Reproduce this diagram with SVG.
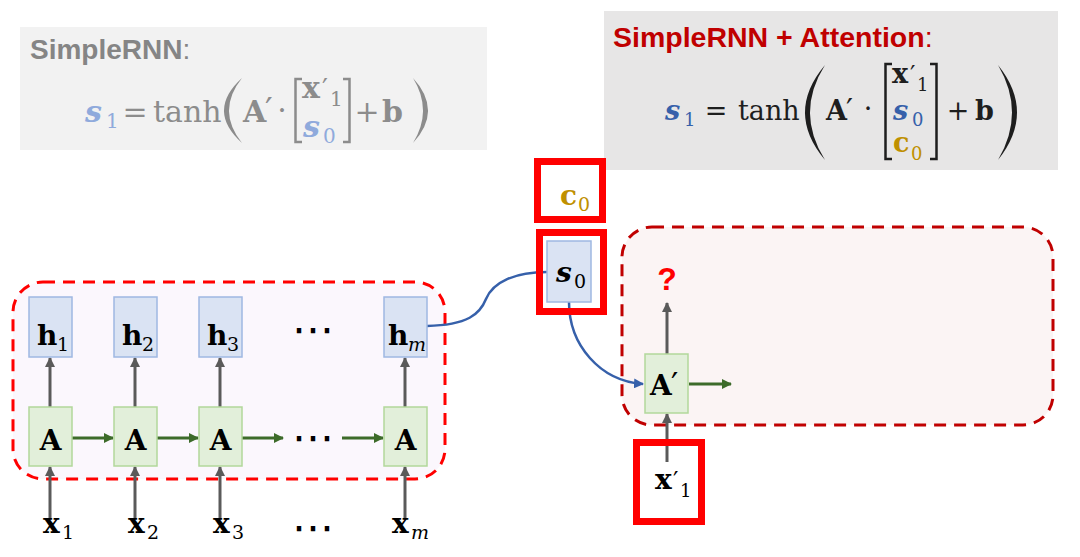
<svg xmlns="http://www.w3.org/2000/svg" width="1080" height="557" viewBox="0 0 1080 557">
<style>
.m{font-family:"DejaVu Serif","Liberation Serif",serif;}
.p{font-family:"DejaVu Sans","Liberation Sans",sans-serif;font-weight:normal;font-style:normal;}
.b{font-weight:bold;}
.bi{font-weight:bold;font-style:italic;}
.it{font-style:italic;}
.t{font-family:"Liberation Sans","DejaVu Sans",sans-serif;}
.hbox{fill:#dae3f3;stroke:#9fb8e2;stroke-width:1.5;}
.abox{fill:#e2efda;stroke:#b2d89b;stroke-width:1.5;}
.red{fill:none;stroke:#ff0000;stroke-width:7;}
.ga{stroke:#5a5a5a;stroke-width:3;fill:none;marker-end:url(#mg);}
.gr{stroke:#3d6b2a;stroke-width:3;fill:none;marker-end:url(#mgr);}
.bl{stroke:#3660aa;stroke-width:2.5;fill:none;}
</style>
<defs>
<marker id="mg" viewBox="0 0 10 10" refX="9" refY="5" markerWidth="10" markerHeight="10" markerUnits="userSpaceOnUse" orient="auto"><path d="M0,0L10,5L0,10z" fill="#5a5a5a"/></marker>
<marker id="mgr" viewBox="0 0 10 10" refX="9" refY="5" markerWidth="10" markerHeight="10" markerUnits="userSpaceOnUse" orient="auto"><path d="M0,0L10,5L0,10z" fill="#3d6b2a"/></marker>
<marker id="mb" viewBox="0 0 10 10" refX="9" refY="5" markerWidth="10" markerHeight="10" markerUnits="userSpaceOnUse" orient="auto"><path d="M0,0L10,5L0,10z" fill="#3660aa"/></marker>
</defs>
<rect width="1080" height="557" fill="#ffffff"/>

<!-- left formula panel -->
<g id="formula-simplernn">
<rect x="20" y="27" width="467" height="123" fill="#f2f2f2"/>
<text class="t" x="30" y="59" font-size="28" fill="#858585"><tspan font-weight="bold">SimpleRNN</tspan>:</text>
<g class="m" fill="#8c8c8c" font-size="30">
<text fill="#8faadc"><tspan class="bi" x="85" y="122">s</tspan><tspan x="106" y="128" font-size="20">1</tspan></text>
<text x="135" y="122" text-anchor="middle">=</text>
<text x="153" y="122">tanh</text>
<path d="M242,78 Q206,110.5 242,143 Q216,110.5 242,78Z"/>
<text><tspan class="b" x="243" y="122">A</tspan><tspan class="p" x="265" y="122" font-size="34">′</tspan></text>
<text x="282" y="120" text-anchor="middle">·</text>
<path d="M302,79 H295.5 V142 H302" fill="none" stroke="#8c8c8c" stroke-width="2.5"/>
<text><tspan class="b" x="302" y="98">x</tspan><tspan class="p" x="322" y="98" font-size="26">′</tspan><tspan x="330" y="106" font-size="20">1</tspan></text>
<text fill="#8faadc"><tspan class="bi" x="303" y="137">s</tspan><tspan x="323" y="143" font-size="20">0</tspan></text>
<path d="M343,79 H349.5 V142 H343" fill="none" stroke="#8c8c8c" stroke-width="2.5"/>
<text x="367" y="122" text-anchor="middle">+</text>
<text class="b" x="382" y="122">b</text>
<path d="M413,78 Q443,110.5 413,143 Q433,110.5 413,78Z"/>
</g>
</g>

<!-- right formula panel -->
<g id="formula-attention">
<rect x="604" y="11" width="454" height="159" fill="#e7e6e6"/>
<text class="t" x="613" y="47" font-size="28.5" fill="#c00000"><tspan font-weight="bold">SimpleRNN + Attention</tspan>:</text>
<g class="m" fill="#1e1e1e" font-size="27">
<text fill="#3660aa"><tspan class="bi" x="665" y="120">s</tspan><tspan x="684" y="126" font-size="18">1</tspan></text>
<text x="716" y="120" text-anchor="middle">=</text>
<text x="738" y="120">tanh</text>
<path d="M825,65 Q785,112.5 825,160 Q795,112.5 825,65Z"/>
<text><tspan class="b" x="826" y="120">A</tspan><tspan class="p" x="846" y="120" font-size="31">′</tspan></text>
<text x="868" y="118" text-anchor="middle">·</text>
<path d="M892,64 H885.5 V159 H892" fill="none" stroke="#1e1e1e" stroke-width="2.5"/>
<text><tspan class="b" x="892" y="83">x</tspan><tspan class="p" x="910" y="83" font-size="24">′</tspan><tspan x="917" y="91" font-size="18">1</tspan></text>
<text fill="#3660aa"><tspan class="bi" x="893" y="120">s</tspan><tspan x="912" y="126" font-size="18">0</tspan></text>
<text fill="#bf9000"><tspan class="b" x="893" y="152">c</tspan><tspan x="911" y="160" font-size="18">0</tspan></text>
<path d="M930,64 H936.5 V159 H930" fill="none" stroke="#1e1e1e" stroke-width="2.5"/>
<text x="958" y="120" text-anchor="middle">+</text>
<text class="b" x="975" y="120">b</text>
<path d="M998,65 Q1036,112.5 998,160 Q1026,112.5 998,65Z"/>
</g>
</g>

<!-- containers -->
<g id="encoder-container">
<rect x="13" y="282" width="432" height="197" rx="30" fill="#fbf7fd" stroke="#ff0000" stroke-width="3" stroke-dasharray="12 8"/>
</g>
<g id="decoder-container">
<rect x="622" y="227" width="431" height="198" rx="30" fill="#fbf4f4" stroke="#c00000" stroke-width="3" stroke-dasharray="12 8"/>
</g>

<!-- connectors -->
<g id="connectors">
<line class="ga" x1="50" y1="407" x2="50" y2="358"/>
<line class="ga" x1="135" y1="407" x2="135" y2="358"/>
<line class="ga" x1="220" y1="407" x2="220" y2="358"/>
<line class="ga" x1="405" y1="407" x2="405" y2="358"/>
<line class="ga" x1="50" y1="518" x2="50" y2="467"/>
<line class="ga" x1="135" y1="518" x2="135" y2="467"/>
<line class="ga" x1="220" y1="518" x2="220" y2="467"/>
<line class="ga" x1="405" y1="518" x2="405" y2="467"/>
<line class="gr" x1="72" y1="438" x2="113" y2="438"/>
<line class="gr" x1="157" y1="438" x2="198" y2="438"/>
<line class="gr" x1="242" y1="438" x2="283" y2="438"/>
<line class="gr" x1="342" y1="438" x2="383" y2="438"/>
<line class="ga" x1="667" y1="354" x2="667" y2="303"/>
<line class="ga" x1="667" y1="462" x2="667" y2="414"/>
<line class="gr" x1="689" y1="384" x2="731" y2="384"/>
<path class="bl" d="M427,326 C468,325 480,314 486,299 C493,282 515,272 547,272"/>
<path class="bl" d="M569,302 C569,345 600,381 643,384" marker-end="url(#mb)"/>
</g>

<!-- h nodes -->
<g id="h1"><rect class="hbox" x="29" y="297" width="43" height="60"/><text class="m"><tspan class="b" x="37" y="345" font-size="28">h</tspan><tspan x="57" y="351" font-size="19">1</tspan></text></g>
<g id="h2"><rect class="hbox" x="114" y="297" width="43" height="60"/><text class="m"><tspan class="b" x="122" y="345" font-size="28">h</tspan><tspan x="142" y="351" font-size="19">2</tspan></text></g>
<g id="h3"><rect class="hbox" x="199" y="297" width="43" height="60"/><text class="m"><tspan class="b" x="207" y="345" font-size="28">h</tspan><tspan x="227" y="351" font-size="19">3</tspan></text></g>
<g id="hm"><rect class="hbox" x="384" y="297" width="43" height="60"/><text class="m"><tspan class="b" x="388" y="345" font-size="28">h</tspan><tspan class="it" x="408" y="351" font-size="19">m</tspan></text></g>

<!-- A nodes -->
<g id="A1"><rect class="abox" x="29" y="407" width="43" height="59"/><text class="m b" x="50.5" y="450" font-size="28" text-anchor="middle">A</text></g>
<g id="A2"><rect class="abox" x="114" y="407" width="43" height="59"/><text class="m b" x="135.5" y="450" font-size="28" text-anchor="middle">A</text></g>
<g id="A3"><rect class="abox" x="199" y="407" width="43" height="59"/><text class="m b" x="220.5" y="450" font-size="28" text-anchor="middle">A</text></g>
<g id="Am"><rect class="abox" x="384" y="407" width="43" height="59"/><text class="m b" x="405.5" y="450" font-size="28" text-anchor="middle">A</text></g>

<!-- dots -->
<g id="dots" class="p" font-size="42" fill="#000" text-anchor="middle">
<text x="313" y="344">⋯</text>
<text x="313" y="452">⋯</text>
<text x="313" y="542">⋯</text>
</g>

<!-- x inputs -->
<g id="x1"><text class="m"><tspan class="b" x="43" y="533" font-size="28">x</tspan><tspan x="62" y="539" font-size="19">1</tspan></text></g>
<g id="x2"><text class="m"><tspan class="b" x="128" y="533" font-size="28">x</tspan><tspan x="147" y="539" font-size="19">2</tspan></text></g>
<g id="x3"><text class="m"><tspan class="b" x="213" y="533" font-size="28">x</tspan><tspan x="232" y="539" font-size="19">3</tspan></text></g>
<g id="xm"><text class="m"><tspan class="b" x="392" y="533" font-size="28">x</tspan><tspan class="it" x="411" y="539" font-size="19">m</tspan></text></g>

<!-- c0 -->
<g id="c0"><rect class="red" x="537.5" y="161.5" width="65" height="58"/><text class="m" fill="#bf9000"><tspan class="b" x="560" y="205" font-size="28">c</tspan><tspan x="578" y="211" font-size="19">0</tspan></text></g>

<!-- s0 -->
<g id="s0"><rect class="red" x="539.5" y="232.5" width="64" height="79"/><rect class="hbox" x="547" y="241" width="44" height="61"/><text class="m"><tspan class="bi" x="556" y="282" font-size="28">s</tspan><tspan x="574" y="288" font-size="19">0</tspan></text></g>

<!-- A' -->
<g id="A-prime"><rect class="abox" x="645" y="354" width="43" height="59"/><text class="m"><tspan class="b" x="650" y="395" font-size="28">A</tspan><tspan class="p" x="671" y="395" font-size="32">′</tspan></text></g>

<!-- question mark -->
<g id="output-q"><text class="t" x="667" y="290" font-size="32" font-weight="bold" fill="#ff0000" text-anchor="middle">?</text></g>

<!-- x1' -->
<g id="x1-prime"><rect class="red" x="636.5" y="442.5" width="65" height="79"/><text class="m"><tspan class="b" x="655" y="489" font-size="28">x</tspan><tspan class="p" x="673" y="489" font-size="24">′</tspan><tspan x="680" y="497" font-size="18">1</tspan></text></g>
</svg>
